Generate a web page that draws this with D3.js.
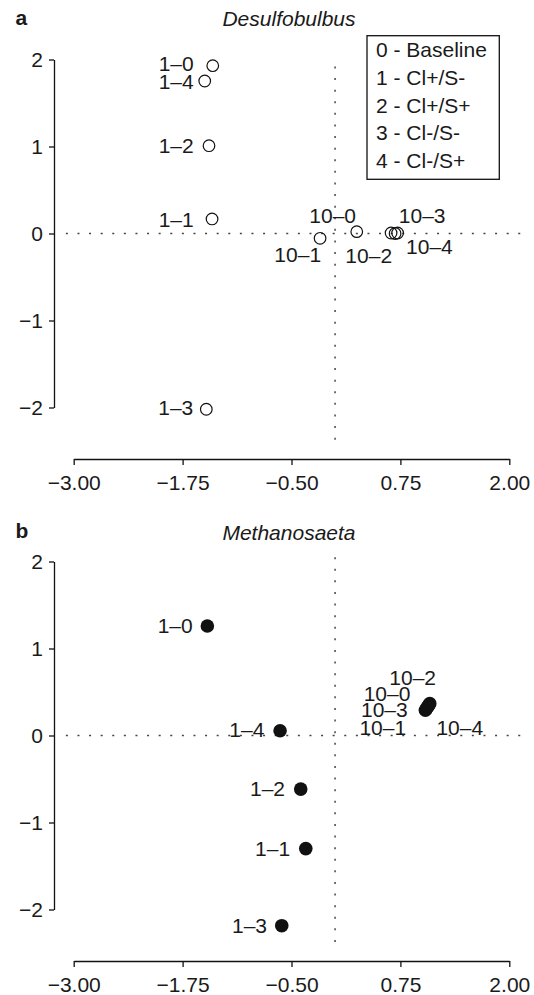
<!DOCTYPE html>
<html>
<head>
<meta charset="utf-8">
<script src="https://cdn.jsdelivr.net/npm/d3@7"></script>
<style>
  body { margin: 0; background: #fff; }
  text { font-family: "Liberation Sans", Arial, Helvetica, sans-serif; fill: #1a1a1a; }
</style>
</head>
<body>
<div id="chart"></div>
<script>
// Point labels (sampling time - treatment), same order for both panels
const pointLabels = ["1–0", "1–1", "1–2", "1–3", "1–4", "10–0", "10–1", "10–2", "10–3", "10–4"];

// Panel a: Desulfobulbus
const desulfoX = [-1.404, -1.412, -1.447, -1.478, -1.496, 0.249, -0.172, 0.643, 0.718, 0.689];
const desulfoY = [1.929, 0.167, 1.009, -2.02, 1.753, 0.021, -0.055, 0.006, 0.006, 0.0];

// Panel b: Methanosaeta
const methanoX = [-1.466, -0.336, -0.394, -0.612, -0.631, 1.062, 1.037, 1.087, 1.049, 1.075];
const methanoY = [1.259, -1.30, -0.616, -2.186, 0.055, 0.328, 0.290, 0.366, 0.309, 0.347];

// Axes
const xTicks = [-3, -1.75, -0.5, 0.75, 2];
const yTicks = [-2, -1, 0, 1, 2];

// Legend (panel a only)
const legendItems = ["0 - Baseline", "1 - Cl+/S-", "2 - Cl+/S+", "3 - Cl-/S-", "4 - Cl-/S+"];

// Label nudges [anchor, dx, dy] in px, relative to each point
const nudgeA = [
    ["end", -19, 5], ["end", -18.3, 7.7], ["end", -15.3, 7.6], ["end", -13, 6], ["end", -11, 8],
    ["end", -0.7, -8.7], ["end", 1, 23.7], ["end", 1, 30], ["start", 1.2, -10.3], ["start", 11, 20.5]
];
const nudgeB = [
    ["end", -14.6, 6.7], ["end", -15.7, 7.3], ["end", -15.7, 7], ["end", -14.7, 7], ["end", -15.7, 6],
    ["end", -17.2, -6], ["end", -19.3, 24.7], ["end", 6.3, -18.7], ["end", -18.7, 8], ["start", 7.7, 29.7]
];

const width = 534, height = 995;
const fontSize = 21;

const svg = d3.select("#chart")
    .append("svg")
    .attr("width", width)
    .attr("height", height);

// Shared x scale
const xScale = d3.scaleLinear().domain([-3, 2]).range([73.7, 509.3]);

function drawPanel(opt) {
    const g = svg.append("g").attr("transform", `translate(0,${opt.top})`);

    const yScale = d3.scaleLinear().domain([-2, 2]).range([407.5, 59.5]);

    // Panel letter and title
    g.append("text")
        .attr("x", 15.5).attr("y", opt.letterY)
        .style("font-size", fontSize + "px").style("font-weight", "bold")
        .text(opt.letter);
    g.append("text")
        .attr("x", 289).attr("y", opt.titleY)
        .attr("text-anchor", "middle")
        .style("font-size", fontSize + "px").style("font-style", "italic")
        .text(opt.title);

    // Dotted reference lines at 0
    g.append("line")
        .attr("x1", xScale(-3.09)).attr("x2", xScale(2.14))
        .attr("y1", yScale(0)).attr("y2", yScale(0))
        .attr("stroke", "#444").attr("stroke-width", 1.5)
        .attr("stroke-dasharray", "2 9.6");
    g.append("line")
        .attr("x1", xScale(0)).attr("x2", xScale(0))
        .attr("y1", yScale(opt.vTop)).attr("y2", yScale(-2.46))
        .attr("stroke", "#444").attr("stroke-width", 1.5)
        .attr("stroke-dasharray", "2 9.6");

    // Axes
    const xAxis = g.append("g")
        .attr("transform", "translate(0,459)")
        .call(d3.axisBottom(xScale).tickValues(xTicks).tickFormat(d3.format(".2f"))
            .tickSize(6).tickSizeOuter(0).tickPadding(10));
    const yAxis = g.append("g")
        .attr("transform", "translate(54,0)")
        .call(d3.axisLeft(yScale).tickValues(yTicks).tickFormat(d3.format("d"))
            .tickSize(5).tickSizeOuter(0).tickPadding(6));
    [xAxis, yAxis].forEach(ax => {
        ax.selectAll("path, line").attr("stroke", "#111").attr("stroke-width", 1.3);
        ax.selectAll("text")
            .style("font-size", fontSize + "px")
            .style("font-family", "'Liberation Sans', Arial, sans-serif")
            .attr("fill", "#1a1a1a");
    });

    // Points
    const pts = opt.xs.map((x, i) => ({x: x, y: opt.ys[i], label: pointLabels[i], nudge: opt.nudge[i]}));

    g.selectAll("circle.pt")
        .data(pts)
        .join("circle")
        .attr("class", "pt")
        .attr("cx", d => xScale(d.x))
        .attr("cy", d => yScale(d.y))
        .attr("r", opt.filled ? 6.8 : 5.8)
        .attr("fill", opt.filled ? "#111" : "none")
        .attr("stroke", "#111")
        .attr("stroke-width", opt.filled ? 0 : 1.2);

    g.selectAll("text.lbl")
        .data(pts)
        .join("text")
        .attr("class", "lbl")
        .attr("x", d => xScale(d.x) + d.nudge[1])
        .attr("y", d => yScale(d.y) + d.nudge[2])
        .attr("text-anchor", d => d.nudge[0])
        .style("font-size", fontSize + "px")
        .text(d => d.label);

    return g;
}

const panelA = drawPanel({
    top: 0, letter: "a", letterY: 25, title: "Desulfobulbus", titleY: 26,
    xs: desulfoX, ys: desulfoY, nudge: nudgeA, filled: false, vTop: 1.92
});

drawPanel({
    top: 502, letter: "b", letterY: 36, title: "Methanosaeta", titleY: 38,
    xs: methanoX, ys: methanoY, nudge: nudgeB, filled: true, vTop: 2.05
});

// Legend box in panel a
const legend = panelA.append("g");
legend.append("rect")
    .attr("x", 367).attr("y", 35.7)
    .attr("width", 132.3).attr("height", 143.6)
    .attr("fill", "#fff").attr("stroke", "#111").attr("stroke-width", 1.3);
legend.selectAll("text")
    .data(legendItems)
    .join("text")
    .attr("x", 376)
    .attr("y", (d, i) => 57.3 + i * 27.6)
    .style("font-size", fontSize + "px")
    .text(d => d);
</script>
</body>
</html>
